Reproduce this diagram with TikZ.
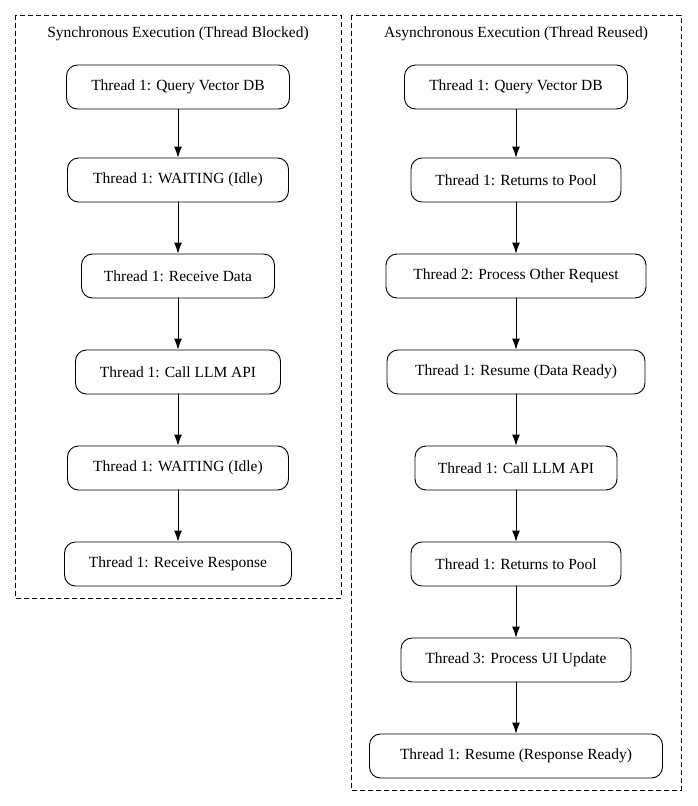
\documentclass[tikz,border=0pt]{standalone}
\usepackage{fontspec}
\setmainfont{Liberation Serif}
\usetikzlibrary{arrows.meta}
\begin{document}
\begin{tikzpicture}[x=1pt,y=-1pt,
  box/.style={draw,rounded corners=11pt,minimum height=44pt,inner sep=0pt,font=\fontsize{15.5}{18}\selectfont,line width=0.9pt},
  cl/.style={draw,dashed,line width=0.9pt,dash pattern=on 5pt off 3pt},
  ttl/.style={font=\fontsize{15.5}{18}\selectfont},
  arr/.style={-{Latex[length=11pt,width=8pt]},line width=0.9pt}]
\useasboundingbox (0,0) rectangle (697,806);
\draw[cl] (15,15) rectangle (341,598);
\draw[cl] (351,15) rectangle (681,790);
\node[ttl] (tl) at (178,34) {Synchronous Execution (Thread Blocked)};
\node[ttl] (tr) at (516,34) {Asynchronous Execution (Thread Reused)};
\node[box,minimum width=223pt] (a1) at (178,87) {Thread 1: Query Vector DB};
\node[box,minimum width=221pt] (a2) at (178,180) {Thread 1: WAITING (Idle)};
\node[box,minimum width=193pt] (a3) at (178,276) {Thread 1: Receive Data};
\node[box,minimum width=205pt] (a4) at (178,372) {Thread 1: Call LLM API};
\node[box,minimum width=221pt] (a5) at (178,468) {Thread 1: WAITING (Idle)};
\node[box,minimum width=227pt] (a6) at (178,564) {Thread 1: Receive Response};
\node[box,minimum width=223pt] (b1) at (516,87) {Thread 1: Query Vector DB};
\node[box,minimum width=210pt] (b2) at (516,180) {Thread 1: Returns to Pool};
\node[box,minimum width=260pt] (b3) at (516,276) {Thread 2: Process Other Request};
\node[box,minimum width=258pt] (b4) at (516,372) {Thread 1: Resume (Data Ready)};
\node[box,minimum width=202pt] (b5) at (516,468) {Thread 1: Call LLM API};
\node[box,minimum width=210pt] (b6) at (516,564) {Thread 1: Returns to Pool};
\node[box,minimum width=230pt] (b7) at (516,660) {Thread 3: Process UI Update};
\node[box,minimum width=293pt] (b8) at (516,756) {Thread 1: Resume (Response Ready)};
\foreach \i/\j in {a1/a2,a2/a3,a3/a4,a4/a5,a5/a6,b1/b2,b2/b3,b3/b4,b4/b5,b5/b6,b6/b7,b7/b8}
  \draw[arr] (\i) -- (\j);
\end{tikzpicture}
\end{document}
